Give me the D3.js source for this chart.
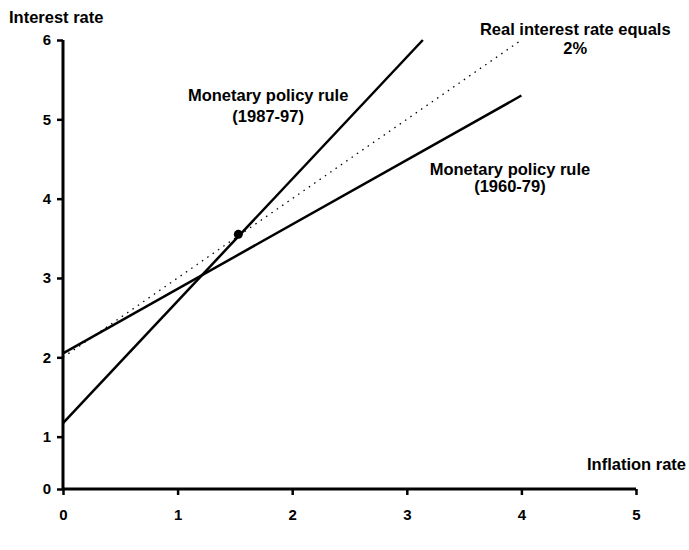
<!DOCTYPE html>
<html><head><meta charset="utf-8">
<script src="https://cdn.jsdelivr.net/npm/d3@7"></script>
<style>body{margin:0;background:#fff}svg{display:block}text{font-family:"Liberation Sans",Arial,sans-serif;font-weight:bold;fill:#000}</style>
</head><body>
<svg id="c" width="689" height="550"></svg>
<script>
// Data
const xTicks = [0, 1, 2, 3, 4, 5];
const yTicks = [1, 2, 3, 4, 5, 6];
const yAxisFloor = 0.34;            // value where the horizontal axis (labelled 0) sits
const realRate = [[0, 2.0], [4, 6.0]];           // real interest rate equals 2%
const rule6079 = [[0, 2.05], [4, 5.3]];          // monetary policy rule 1960-79
const rule8797 = [[0, 1.17], [3.14, 6.0]];       // monetary policy rule 1987-97
const marker = [[1.53, 3.55]];
const labels = [
  {t: "Monetary policy rule", x: 1.79, y: 5.23},
  {t: "(1987-97)", x: 1.79, y: 4.97},
  {t: "Real interest rate equals", x: 4.47, y: 6.06},
  {t: "2%", x: 4.47, y: 5.82},
  {t: "Monetary policy rule", x: 3.9, y: 4.30},
  {t: "(1960-79)", x: 3.9, y: 4.08}
];

const svg = d3.select("#c");
const x = d3.scaleLinear().domain([0, 5]).range([63, 636]);
const y = d3.scaleLinear().domain([yAxisFloor, 6]).range([489, 40]);

const line = d3.line().x(d => x(d[0])).y(d => y(d[1]));

// dotted line
svg.append("path").datum(realRate).attr("d", line)
  .attr("fill", "none").attr("stroke", "#000").attr("stroke-width", 1.3)
  .attr("stroke-dasharray", "1.5,5");
[rule6079, rule8797].forEach(dat => {
  svg.append("path").datum(dat).attr("d", line)
    .attr("fill", "none").attr("stroke", "#000").attr("stroke-width", 2.5);
});
svg.selectAll("circle.m").data(marker).join("circle")
  .attr("cx", d => x(d[0])).attr("cy", d => y(d[1])).attr("r", 4.5).attr("fill", "#000");

// axes
const xAxis = d3.axisBottom(x).tickValues(xTicks).tickSize(6).tickPadding(14).tickFormat(d3.format("d"));
const gx = svg.append("g").attr("transform", `translate(0,${y(yAxisFloor)})`).call(xAxis);
const yAxis = d3.axisLeft(y).tickValues([yAxisFloor].concat(yTicks)).tickSize(6).tickPadding(6)
  .tickFormat(d => d === yAxisFloor ? "0" : d3.format("d")(d));
const gy = svg.append("g").attr("transform", `translate(${x(0)},0)`).call(yAxis);
[gx, gy].forEach(g => {
  g.select(".domain").attr("stroke-width", 3).attr("stroke", "#000");
  g.selectAll(".tick line").attr("stroke-width", 2.5).attr("stroke", "#000");
  g.selectAll(".tick text").style("font-size", "15px").style("font-weight", "bold")
    .style("font-family", '"Liberation Sans",Arial,sans-serif').attr("fill", "#000");
});
gx.select(".domain").attr("d", `M${x(0)},0H${x(5)}`);
gy.select(".domain").attr("d", `M0,${y(6)}V${y(yAxisFloor)}`);

// axis titles
svg.append("text").attr("x", 9).attr("y", 23).style("font-size", "16.5px").text("Interest rate");
svg.append("text").attr("x", 686).attr("y", 470).attr("text-anchor", "end").style("font-size", "16.5px").text("Inflation rate");

svg.selectAll("text.lab").data(labels).join("text").attr("class", "lab")
  .attr("x", d => x(d.x)).attr("y", d => y(d.y)).attr("text-anchor", "middle")
  .style("font-size", "16.5px").text(d => d.t);
</script>
</body></html>
